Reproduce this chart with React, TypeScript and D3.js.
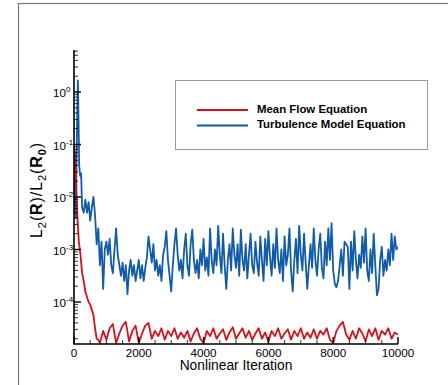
import React, { useEffect, useRef } from "react";
import * as d3 from "d3";

// log10 of L2(R)/L2(R0)
const meanFlowEarlyIter = [0, 25, 50, 75, 100, 125, 150, 200, 250, 300, 350, 400, 450, 500, 550, 600, 650, 700, 750];
const meanFlowEarlyLog = [-1.05, -1.15, -1.4, -1.9, -2.3, -2.6, -2.85, -3.1, -3.45, -3.6, -3.8, -3.9, -4.0, -4.05, -4.15, -4.25, -4.5, -4.7, -4.72];
// from 800 to 10000 every 100
const meanFlowStep = 100;
const meanFlowLog = [
  -4.78, -4.55, -4.72, -4.5, -4.42, -4.78, -4.6, -4.45, -4.38, -4.75, -4.55, -4.45,
  -4.78, -4.6, -4.45, -4.4, -4.7, -4.55, -4.65, -4.5, -4.72, -4.55, -4.65, -4.5,
  -4.7, -4.58, -4.68, -4.55, -4.75, -4.6, -4.5, -4.7, -4.78, -4.55, -4.65, -4.5,
  -4.7, -4.6, -4.52, -4.72, -4.58, -4.48, -4.7, -4.6, -4.5, -4.68, -4.55, -4.72,
  -4.6, -4.5, -4.7, -4.58, -4.75, -4.55, -4.65, -4.5, -4.7, -4.6, -4.52, -4.72,
  -4.55, -4.65, -4.5, -4.7, -4.58, -4.68, -4.52, -4.7, -4.55, -4.62, -4.5, -4.72,
  -4.78, -4.55, -4.45, -4.38, -4.62, -4.72, -4.55, -4.7, -4.5, -4.6, -4.75, -4.52,
  -4.65, -4.5, -4.72, -4.55, -4.62, -4.5, -4.7, -4.58, -4.62,
];

const turbEarlyIter = [0, 20, 40, 60, 80, 100, 120, 140, 160, 190, 220, 250, 300, 350, 400, 450, 500, 550, 600, 650, 700, 750];
const turbEarlyLog = [-1.3, -2.3, -1.6, -2.4, -1.2, -0.4, 0.22, -0.5, -1.4, -1.6, -1.55, -2.2, -2.3, -2.05, -2.3, -2.1, -2.45, -2.2, -2.0, -2.35, -2.9, -2.6];
// from 800 to 10000 every 50
const turbStep = 50;
const turbLog = [
  -3.3, -2.85, -3.75, -3.0, -2.85, -3.1, -2.8, -3.3, -3.45, -3.0, -2.6, -3.1, -3.3, -3.5, -3.25, -3.6, -3.3, -3.85, -3.4, -3.2,
  -3.5, -3.3, -3.6, -3.4, -3.2, -3.55, -3.3, -3.6, -3.35, -3.15, -2.75, -3.0, -3.25, -2.9, -3.4, -3.2, -3.5, -3.3, -3.6, -3.1,
  -2.95, -2.65, -3.2, -3.5, -3.8, -3.3, -2.9, -2.6, -3.1, -3.4, -3.2, -3.55, -3.0, -2.7, -3.3, -3.5, -2.9, -2.62, -3.2, -3.45,
  -3.2, -3.55, -3.0, -3.3, -2.8, -3.4, -3.15, -3.5, -2.6, -3.2, -3.45, -3.0, -3.3, -2.55, -3.1, -3.45, -2.7, -3.3, -3.75, -3.2,
  -2.9, -3.4, -2.6, -3.1, -3.35, -2.9, -3.5, -2.62, -3.2, -3.4, -2.9, -3.55, -3.1, -2.7, -3.3, -3.45, -2.85, -3.25, -3.5, -2.75,
  -3.2, -3.6, -2.8, -3.3, -2.65, -3.15, -3.5, -2.9, -3.35, -2.6, -3.2, -3.45, -3.0, -3.6, -2.75, -3.3, -3.1, -2.6, -3.4, -3.8,
  -3.2, -2.8, -3.45, -2.55, -3.1, -3.4, -2.7, -3.25, -3.75, -3.3, -2.9, -3.35, -2.6, -3.2, -3.5, -3.0, -2.7, -3.35, -3.55, -2.85,
  -3.3, -2.6, -3.2, -2.5, -3.4, -3.65, -3.72, -3.6, -3.3, -3.0, -3.5, -2.85, -2.9, -2.95, -3.75, -2.85, -3.4, -2.65, -3.2, -3.55,
  -3.1, -3.35, -2.75, -3.25, -2.6, -3.4, -3.6, -3.0, -3.45, -2.7, -3.3, -3.87, -3.75, -3.2, -2.95, -3.5, -3.2, -3.4, -3.0, -3.3,
  -2.7, -3.2, -2.75, -3.0, -2.95,
];

const xTicks = [0, 2000, 4000, 6000, 8000, 10000];
const yExponents = [0, -1, -2, -3, -4];
const seriesNames = ["Mean Flow Equation", "Turbulence Model Equation"];
const seriesColors = ["#d2111c", "#115caa"];

const buildSeries = (earlyIter, earlyLog, start, step, logs) => {
  const pts = earlyIter.map((it, i) => [it, Math.pow(10, earlyLog[i])]);
  logs.forEach((v, i) => pts.push([start + i * step, Math.pow(10, v)]));
  return pts;
};

const App = () => {
  const svgRef = useRef(null);

  useEffect(() => {
    document.body.style.margin = "0";
    const svg = d3.select(svgRef.current);
    svg.selectAll("*").remove();

    const width = 448;
    const height = 385;
    const left = 74;
    const right = 398;
    const top = 50;
    const bottom = 344;
    const font = "'Liberation Sans', Arial, Helvetica, sans-serif";

    svg.attr("width", width).attr("height", height);

    // outer frame
    svg
      .append("rect")
      .attr("x", 18.5)
      .attr("y", 3.5)
      .attr("width", 460)
      .attr("height", 420)
      .attr("fill", "none")
      .attr("stroke", "#777")
      .attr("stroke-width", 1.2);

    const x = d3.scaleLinear().domain([0, 10000]).range([left, right]);
    const y = d3
      .scaleLog()
      .domain([Math.pow(10, -4.8), Math.pow(10, 0.8)])
      .range([bottom, top]);

    const series = [
      buildSeries(meanFlowEarlyIter, meanFlowEarlyLog, 800, meanFlowStep, meanFlowLog),
      buildSeries(turbEarlyIter, turbEarlyLog, 800, turbStep, turbLog),
    ];

    const line = d3
      .line()
      .x((d) => x(d[0]))
      .y((d) => y(d[1]));

    const g = svg.append("g");
    g.append("defs")
      .append("clipPath")
      .attr("id", "plot-clip")
      .append("rect")
      .attr("x", left)
      .attr("y", top)
      .attr("width", right - left)
      .attr("height", bottom - top);

    [1, 0].forEach((k) => {
      g.append("path")
        .datum(series[k])
        .attr("clip-path", "url(#plot-clip)")
        .attr("fill", "none")
        .attr("stroke", seriesColors[k])
        .attr("stroke-width", 1.8)
        .attr("stroke-linejoin", "round")
        .attr("d", line);
    });

    // --- axes ---
    const axis = svg.append("g").attr("stroke", "#000");
    axis
      .append("path")
      .attr("d", `M${left},${top}V${bottom}H${right}`)
      .attr("fill", "none")
      .attr("stroke-width", 1.6);

    // y minor ticks
    const yMinor = [];
    for (let e = -5; e <= 0; e++) {
      for (let m = 2; m <= 9; m++) {
        const v = m * Math.pow(10, e);
        if (y(v) >= top && y(v) <= bottom) yMinor.push(v);
      }
    }
    axis
      .selectAll("line.ymin")
      .data(yMinor)
      .join("line")
      .attr("x1", left)
      .attr("x2", left + 4)
      .attr("y1", (d) => y(d))
      .attr("y2", (d) => y(d))
      .attr("stroke-width", 0.8);
    axis
      .selectAll("line.ymaj")
      .data(yExponents)
      .join("line")
      .attr("x1", left)
      .attr("x2", left + 7)
      .attr("y1", (d) => y(Math.pow(10, d)))
      .attr("y2", (d) => y(Math.pow(10, d)))
      .attr("stroke-width", 1.4);

    // x ticks
    const xMinor = d3.range(500, 10000, 500).filter((d) => d % 2000 !== 0);
    axis
      .selectAll("line.xmin")
      .data(xMinor)
      .join("line")
      .attr("x1", (d) => x(d))
      .attr("x2", (d) => x(d))
      .attr("y1", bottom)
      .attr("y2", bottom - 4)
      .attr("stroke-width", 0.8);
    axis
      .selectAll("line.xmaj")
      .data(xTicks)
      .join("line")
      .attr("x1", (d) => x(d))
      .attr("x2", (d) => x(d))
      .attr("y1", bottom)
      .attr("y2", bottom - 7)
      .attr("stroke-width", 1.4);

    svg
      .append("g")
      .selectAll("text")
      .data(xTicks)
      .join("text")
      .attr("x", (d) => x(d))
      .attr("y", 356.5)
      .attr("text-anchor", "middle")
      .style("font-family", font)
      .style("font-size", "11.7px")
      .style("fill", "#000")
      .text((d) => d);

    const yl = svg
      .append("g")
      .selectAll("text")
      .data(yExponents)
      .join("text")
      .attr("x", 53)
      .attr("y", (d) => y(Math.pow(10, d)) + 5)
      .attr("text-anchor", "start")
      .style("font-family", font)
      .style("font-size", "11.7px")
      .style("fill", "#000");
    yl.append("tspan").text("10");
    yl.append("tspan")
      .attr("dy", -5)
      .style("font-size", "8px")
      .text((d) => `${d}`);

    // axis titles
    svg
      .append("text")
      .attr("x", 236)
      .attr("y", 370)
      .attr("text-anchor", "middle")
      .style("font-family", font)
      .style("font-size", "13.8px")
      .style("fill", "#000")
      .text("Nonlinear Iteration");

    const yt = svg
      .append("text")
      .attr("transform", "translate(42,190) rotate(-90)")
      .attr("text-anchor", "middle")
      .style("font-family", font)
      .style("font-size", "16px")
      .style("letter-spacing", "0.9px")
      .style("fill", "#000");
    const parts = [
      ["L", 0, false],
      ["2", 1, false],
      ["(", 0, false],
      ["R", 0, true],
      [")/L", 0, false],
      ["2", 1, false],
      ["(", 0, false],
      ["R", 0, true],
      ["0", 1, true],
      [")", 0, false],
    ];
    let prevSub = false;
    parts.forEach(([t, sub, bold]) => {
      const ts = yt.append("tspan").text(t);
      if (sub && !prevSub) ts.attr("dy", 4);
      if (!sub && prevSub) ts.attr("dy", -4);
      if (sub) ts.style("font-size", "11px");
      if (bold) ts.style("font-weight", "bold");
      prevSub = !!sub;
    });

    // --- legend ---
    const lg = svg.append("g");
    lg.append("rect")
      .attr("x", 175.5)
      .attr("y", 80.5)
      .attr("width", 252)
      .attr("height", 69)
      .attr("fill", "#fff")
      .attr("stroke", "#999")
      .attr("stroke-width", 1);
    seriesNames.forEach((name, i) => {
      const yy = 110 + i * 15.5;
      lg.append("line")
        .attr("x1", 197)
        .attr("x2", 248)
        .attr("y1", yy)
        .attr("y2", yy)
        .attr("stroke", seriesColors[i])
        .attr("stroke-width", 1.8);
      lg.append("text")
        .attr("x", 257)
        .attr("y", yy + 2.5 + (i ? 0.3 : 0))
        .style("font-family", font)
        .style("font-size", "11.4px")
        .style("font-weight", "bold")
        .style("fill", "#000")
        .text(name);
    });
  }, []);

  return (
    <div style={{ position: "absolute", left: 0, top: 0 }}>
      <svg ref={svgRef} style={{ display: "block" }}></svg>
    </div>
  );
};

export default App;
